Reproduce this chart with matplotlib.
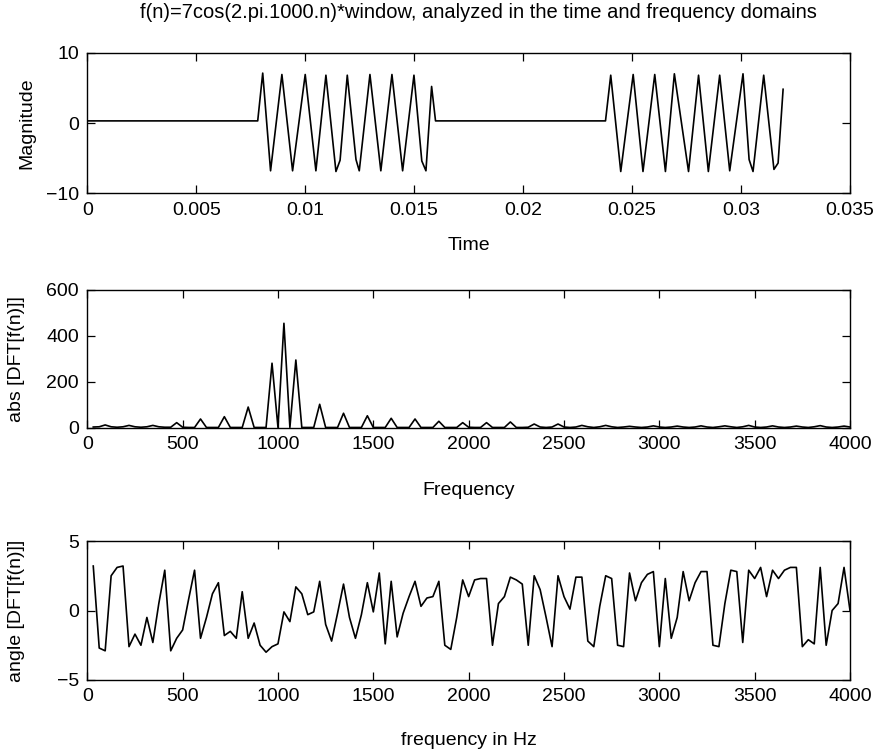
import matplotlib
matplotlib.use("Agg")
import matplotlib.pyplot as plt
import numpy as np

plt.rcParams['font.family'] = ['Liberation Sans', 'DejaVu Sans']
plt.rcParams['font.size'] = 14

title = "f(n)=7cos(2.pi.1000.n)*window, analyzed in the time and frequency domains"

# time domain signal (time in ms)
t_ms = [0, 7.82, 8.05, 8.41, 8.93, 9.42, 10.0, 10.49, 10.95, 11.41, 11.6, 11.93,
        12.33, 12.48, 12.97, 13.47, 13.98, 14.47, 14.99, 15.35, 15.54, 15.8, 15.98,
        23.78, 24.02, 24.48, 25.05, 25.5, 26.04, 26.53, 26.94, 27.59, 28.05, 28.5,
        29.02, 29.48, 30.09, 30.37, 30.55, 31.04, 31.51, 31.7, 31.93]
sig = [0.3, 0.3, 7.1, -6.8, 6.9, -6.8, 6.9, -6.8, 6.8, -6.9, -5.3, 6.8,
       -5.2, -6.8, 6.9, -6.8, 6.9, -6.8, 6.8, -5.4, -6.8, 5.2, 0.3,
       0.3, 6.8, -6.9, 6.9, -6.9, 6.9, -6.9, 7.0, -6.9, 6.8, -6.9,
       6.8, -6.8, 7.0, -5.2, -6.9, 6.8, -6.6, -5.7, 4.8]

# DFT bins, 31.25 Hz apart (bins 1..128)
freq = np.arange(1, 129) * 31.25

mag = [3, 4, 12, 4, 2, 4, 10, 4,
       2, 4, 10, 4, 2, 2, 22, 2,
       1, 1, 38, 1, 1, 1, 48, 1,
       1, 1, 90, 1, 1, 1, 281, 1,
       455, 1, 295, 1, 1, 1, 102, 1,
       1, 1, 63, 1, 1, 1, 52, 1,
       1, 1, 41, 1, 1, 1, 38, 1,
       1, 1, 28, 1, 1, 1, 22, 2,
       1, 1, 22, 1, 1, 1, 25, 1,
       1, 2, 16, 3, 1, 3, 16, 3,
       1, 3, 10, 4, 1, 4, 10, 4,
       1, 3, 6, 3, 1, 3, 8, 3,
       1, 3, 7, 3, 1, 3, 8, 3,
       1, 4, 8, 4, 1, 4, 10, 3,
       1, 3, 8, 3, 1, 3, 7, 3,
       1, 4, 9, 3, 1, 3, 7, 3]

phase = [3.2, -2.7, -2.9, 2.5, 3.1, 3.2, -2.6, -1.7,
         -2.5, -0.5, -2.3, 0.5, 2.9, -2.9, -2.0, -1.4,
         0.8, 2.9, -2.0, -0.5, 1.2, 2.0, -1.8, -1.5,
         -2.0, 1.35, -2.0, -0.9, -2.5, -3.0, -2.6, -2.4,
         -0.1, -0.8, 1.7, 1.2, -0.3, -0.1, 2.1, -1.0,
         -2.2, -0.2, 1.9, -0.5, -2.0, -0.3, 2.0, -0.1,
         2.7, -2.4, 2.1, -1.9, -0.2, 1.0, 2.1, 0.3,
         0.9, 1.0, 2.1, -2.5, -2.8, -0.5, 2.2, 1.0,
         2.2, 2.3, 2.3, -2.5, 0.5, 1.0, 2.4, 2.2,
         1.9, -2.5, 2.5, 1.5, -0.5, -2.6, 2.5, 1.0,
         0.1, 2.4, 2.4, -2.2, -2.6, 0.3, 2.5, 2.3,
         -2.5, -2.6, 2.7, 0.7, 2.0, 2.6, 2.8, -2.6,
         2.3, -2.0, -0.5, 2.8, 0.7, 2.0, 2.8, 2.8,
         -2.5, -2.6, 0.5, 2.9, 2.8, -2.3, 2.9, 2.3,
         3.1, 1.0, 2.9, 2.3, 2.9, 3.1, 3.1, -2.6,
         -2.1, -2.4, 3.1, -2.5, 0.0, 0.5, 3.1, 0.0]

W, H = 878, 753
fig = plt.figure(figsize=(W / 100, H / 100), dpi=100)

def make_ax(top, bottom):
    return fig.add_axes([87.3 / W, 1 - bottom / H, (850 - 87.3) / W, (bottom - top) / H])

ax1 = make_ax(52.7, 193.3)
ax2 = make_ax(290, 427.7)
ax3 = make_ax(541, 680)

for ax in (ax1, ax2, ax3):
    ax.tick_params(direction='in', top=True, right=True, length=6, width=0.9, pad=6)
    for s in ax.spines.values():
        s.set_linewidth(1.0)

ax1.plot(np.array(t_ms) / 1000, sig, color='black', lw=1.2)
ax1.set_xlim(0, 0.035)
ax1.set_ylim(-10, 10)
ax1.set_xticks([0, 0.005, 0.01, 0.015, 0.02, 0.025, 0.03, 0.035])
ax1.set_xticklabels(['0', '0.005', '0.01', '0.015', '0.02', '0.025', '0.03', '0.035'])
ax1.set_yticks([-10, 0, 10])
ax1.set_xlabel('Time', labelpad=13)
ax1.set_ylabel('Magnitude')
ax1.yaxis.set_label_coords(-0.0686, 0.5)

ax2.plot(freq, mag, color='black', lw=1.2)
ax2.set_xlim(0, 4000)
ax2.set_ylim(0, 600)
ax2.set_xticks(range(0, 4001, 500))
ax2.set_yticks([0, 200, 400, 600])
ax2.set_xlabel('Frequency', labelpad=21)
ax2.set_ylabel('abs [DFT[f(n)]]')
ax2.yaxis.set_label_coords(-0.0817, 0.5)

ax3.plot(freq, phase, color='black', lw=1.2)
ax3.set_xlim(0, 4000)
ax3.set_ylim(-5, 5)
ax3.set_xticks(range(0, 4001, 500))
ax3.set_yticks([-5, 0, 5])
ax3.set_xlabel('frequency in Hz', labelpad=19)
ax3.set_ylabel('angle [DFT[f(n)]]')
ax3.yaxis.set_label_coords(-0.0817, 0.5)

fig.text(478 / W, 1 - 13 / H, title, ha='center', va='center', fontsize=14.5)

fig.savefig('out.png', dpi=100)
